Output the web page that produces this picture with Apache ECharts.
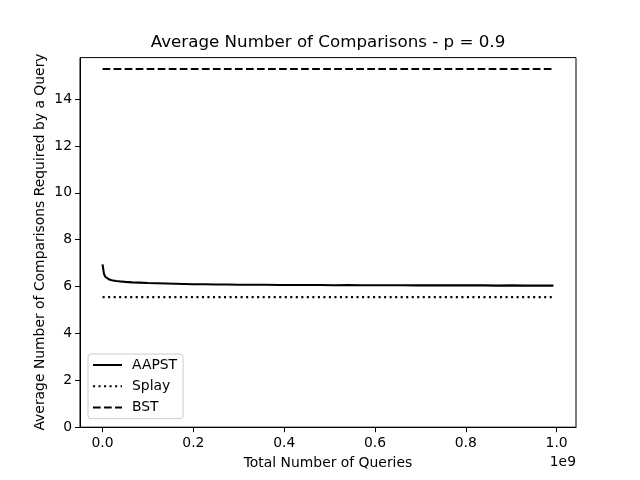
<!DOCTYPE html>
<html>
<head>
<meta charset="utf-8">
<script src="https://cdn.jsdelivr.net/npm/echarts@6/dist/echarts.min.js"></script>
<style>html,body{margin:0;padding:0;background:#fff}#c{width:640px;height:480px}</style>
</head>
<body>
<div id="c"></div>
<script>
// x values in units of 1e9 queries
const aapstX = [0.000,0.003,0.006,0.010,0.015,0.020,0.030,0.040,0.050,0.065,0.080,0.100,0.120,0.140,0.160,0.180,0.200,0.225,0.250,0.275,0.300,0.330,0.360,0.390,0.420,0.450,0.480,0.510,0.540,0.570,0.600,0.630,0.660,0.690,0.720,0.750,0.780,0.810,0.840,0.870,0.900,0.930,0.960,0.993];
const aapstY = [6.95,6.55,6.42,6.35,6.30,6.27,6.24,6.22,6.20,6.18,6.17,6.15,6.14,6.13,6.12,6.11,6.10,6.10,6.09,6.09,6.08,6.08,6.08,6.07,6.07,6.07,6.07,6.06,6.07,6.06,6.06,6.06,6.06,6.05,6.06,6.05,6.05,6.05,6.05,6.04,6.05,6.04,6.04,6.04];
const splayX = [0.000, 0.993];
const splayY = [5.55, 5.55];
const bstX = [0.000, 0.993];
const bstY = [15.28, 15.28];
const xTicks = [0.0, 0.2, 0.4, 0.6, 0.8, 1.0];
const yTicks = [0, 2, 4, 6, 8, 10, 12, 14];
const seriesNames = ['AAPST', 'Splay', 'BST'];
const titleText = 'Average Number of Comparisons - p = 0.9';
const xName = 'Total Number of Queries';
const yName = 'Average Number of Comparisons Required by a Query';
const offsetText = '1e9';

const zip = (xs, ys) => xs.map((x, i) => [x, ys[i]]);
const FONT = 'DejaVu Sans';
const LW = 2.08;
const chart = echarts.init(document.getElementById('c'), null, {renderer: 'canvas'});
chart.setOption({
  animation: false,
  backgroundColor: '#fff',
  grid: {left: 80, right: 64, top: 57.6, bottom: 52.8, show: true, borderColor: '#000', borderWidth: 1, backgroundColor: 'transparent'},
  xAxis: {
    type: 'value', min: -0.0497, max: 1.0427,
    axisLine: {show: true, onZero: false, lineStyle: {color: '#000', width: 1}},
    axisTick: {show: true, inside: false, length: 5, lineStyle: {color: '#000'}, customValues: xTicks},
    axisLabel: {color: '#000', fontFamily: FONT, fontSize: 13.9, margin: 9, customValues: xTicks, formatter: v => v.toFixed(1)},
    splitLine: {show: false}
  },
  yAxis: {
    type: 'value', min: 0, max: 15.77,
    axisLine: {show: true, onZero: false, lineStyle: {color: '#000', width: 1}},
    axisTick: {show: true, inside: false, length: 5, lineStyle: {color: '#000'}, customValues: yTicks},
    axisLabel: {color: '#000', fontFamily: FONT, fontSize: 13.9, margin: 8, customValues: yTicks, formatter: v => String(v)},
    splitLine: {show: false}
  },
  legend: {
    orient: 'vertical', left: 88, top: 354,
    padding: [4, 6, 4, 4],
    itemWidth: 29, itemHeight: 14, itemGap: 7.3,
    itemStyle: {opacity: 0},
    backgroundColor: 'rgba(255,255,255,0.8)', borderColor: '#cccccc', borderWidth: 1, borderRadius: 3,
    textStyle: {color: '#000', fontFamily: FONT, fontSize: 13.9, padding: [0, 0, 0, 5]},
    data: seriesNames
  },
  series: [
    {name: seriesNames[0], type: 'line', data: zip(aapstX, aapstY), symbol: 'none', lineStyle: {color: '#000', width: LW, type: 'solid'}, itemStyle: {color: '#000'}},
    {name: seriesNames[1], type: 'line', data: zip(splayX, splayY), symbol: 'none', lineStyle: {color: '#000', width: LW, type: [2.08, 3.44]}, itemStyle: {color: '#000'}},
    {name: seriesNames[2], type: 'line', data: zip(bstX, bstY), symbol: 'none', lineStyle: {color: '#000', width: LW, type: [7.7, 3.33]}, itemStyle: {color: '#000'}}
  ],
  graphic: [
    {type: 'text', x: 328, y: 43, style: {text: titleText, fill: '#000', font: '16.7px "DejaVu Sans"', textAlign: 'center', textVerticalAlign: 'middle'}},
    {type: 'text', x: 328, y: 463, style: {text: xName, fill: '#000', font: '13.9px "DejaVu Sans"', textAlign: 'center', textVerticalAlign: 'middle'}},
    {type: 'text', x: 576, y: 462, style: {text: offsetText, fill: '#000', font: '13.9px "DejaVu Sans"', textAlign: 'right', textVerticalAlign: 'middle'}},
    {type: 'text', x: 40, y: 242, rotation: Math.PI / 2, style: {text: yName, fill: '#000', font: '13.9px "DejaVu Sans"', textAlign: 'center', textVerticalAlign: 'middle'}}
  ]
});
</script>
</body>
</html>
